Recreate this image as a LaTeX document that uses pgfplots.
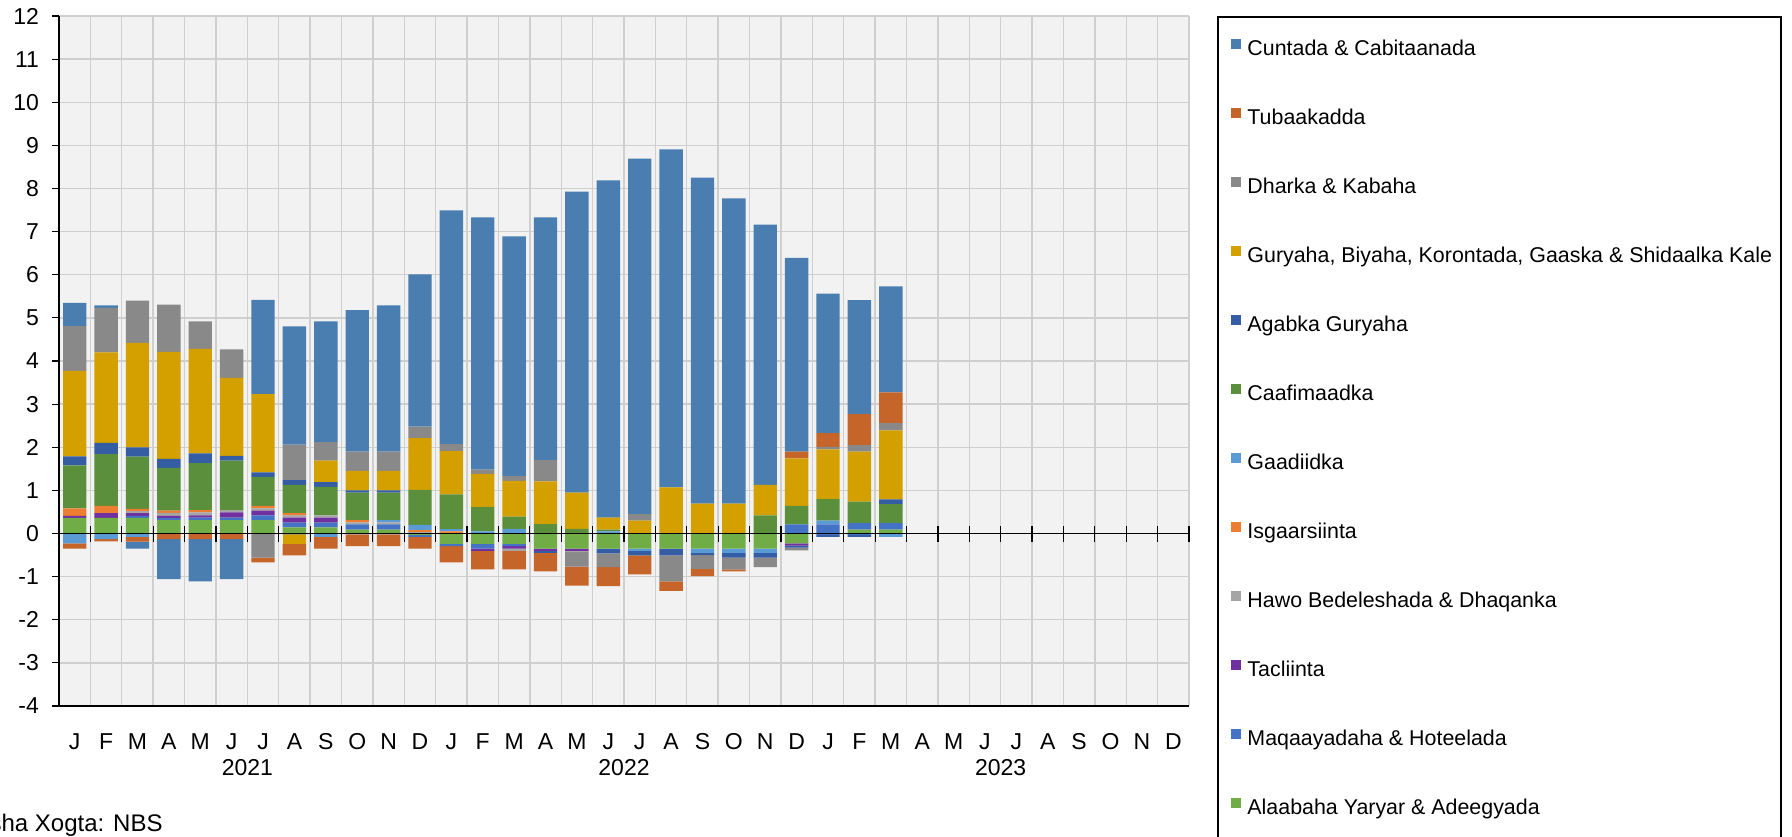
\documentclass[border=0pt]{standalone}
\usepackage{pgfplots}
\pgfplotsset{compat=1.18}
\usepackage{pgfplotstable}
\usepackage{fontspec}
\setmainfont{Liberation Sans}

\definecolor{cCunt}{HTML}{4A7EB0}
\definecolor{cTub}{HTML}{C5652A}
\definecolor{cDhar}{HTML}{898989}
\definecolor{cGur}{HTML}{D4A000}
\definecolor{cAgab}{HTML}{345DA3}
\definecolor{cCaaf}{HTML}{5B8F3B}
\definecolor{cGaad}{HTML}{5B9BD5}
\definecolor{cIsg}{HTML}{ED7D31}
\definecolor{cHawo}{HTML}{A5A5A5}
\definecolor{cTac}{HTML}{7030A0}
\definecolor{cMaq}{HTML}{4472C4}
\definecolor{cAlaa}{HTML}{70AD47}
\definecolor{bgc}{HTML}{F2F2F2}
\definecolor{gridc}{HTML}{CFCFCF}

% positive parts (stacked upward)
\pgfplotstableread{
x  Alaa Maq  Tac  Hawo Isg  Gaad Caaf Agab Gur  Dhar Tub  Cunt
0  0.36 0    0.05 0    0.17 0    1.00 0.21 1.98 1.04 0    0.54
1  0.36 0    0.11 0    0.17 0    1.20 0.26 2.10 1.03 0    0.06
2  0.36 0.05 0.06 0.05 0.05 0    1.21 0.22 2.42 0.98 0    0
3  0.31 0.05 0.05 0.07 0.05 0    0.99 0.21 2.48 1.10 0    0
4  0.31 0.06 0.05 0.07 0.05 0    1.09 0.23 2.42 0.64 0    0
5  0.31 0.06 0.12 0.05 0    0    1.15 0.11 1.81 0.66 0    0
6  0.31 0.11 0.11 0.05 0.06 0    0.67 0.11 1.81 0    0    2.19
7  0.14 0.11 0.12 0.05 0.05 0    0.66 0.11 0    0.82 0    2.74
8  0.14 0.11 0.12 0.05 0    0    0.66 0.11 0.50 0.43 0    2.80
9  0.09 0.12 0    0.05 0.05 0    0.64 0.05 0.45 0.45 0    3.28
10 0.09 0.12 0    0.05 0    0.05 0.64 0.05 0.45 0.45 0    3.39
11 0    0    0    0.03 0.05 0.12 0.81 0    1.20 0.27 0    3.53
12 0    0    0    0    0.05 0.05 0.81 0    1.00 0.16 0    5.42
13 0    0    0    0    0    0.05 0.56 0    0.77 0.10 0    5.85
14 0    0    0    0    0    0.11 0.28 0    0.83 0.11 0    5.56
15 0    0    0    0    0    0    0.22 0    0.99 0.50 0    5.62
16 0    0    0    0    0    0    0.11 0    0.84 0    0    6.98
17 0    0    0    0    0    0.05 0.04 0    0.28 0    0    7.82
18 0    0    0    0    0    0    0    0    0.30 0.15 0    8.24
19 0    0    0    0    0    0    0    0    1.07 0    0    7.84
20 0    0    0    0    0    0    0    0    0.69 0    0    7.56
21 0    0    0    0    0    0    0    0    0.69 0    0    7.08
22 0    0    0    0    0    0    0.42 0    0.71 0    0    6.03
23 0    0.21 0    0    0    0    0.43 0    1.10 0    0.16 4.49
24 0    0.21 0    0    0    0.09 0.50 0    1.15 0.06 0.32 3.23
25 0.09 0.15 0    0    0    0    0.50 0    1.16 0.15 0.72 2.64
26 0.09 0.15 0    0    0    0    0.44 0.11 1.60 0.17 0.71 2.46
}\pos

% negative parts (stacked downward)
\pgfplotstableread{
x  Alaa  Maq   Tac   Hawo  Isg Gaad  Caaf Agab  Gur   Dhar  Tub   Cunt
0  0     0     0     0     0   -0.23 0    0     0     0     -0.12 0
1  0     0     0     0     0   -0.13 0    0     0     0     -0.05 0
2  0     0     0     0     0   -0.08 0    0     0     0     -0.11 -0.16
3  0     0     0     0     0   0     0    0     0     0     -0.13 -0.93
4  0     0     0     0     0   0     0    0     0     0     -0.13 -0.98
5  0     0     0     0     0   0     0    0     0     0     -0.13 -0.93
6  0     0     0     0     0   0     0    0     0     -0.56 -0.11 0
7  0     0     0     0     0   -0.02 0    0     -0.22 0     -0.27 0
8  0     0     0     0     0   -0.08 0    0     0     0     -0.27 0
9  0     0     0     -0.02 0   0     0    0     0     0     -0.27 0
10 0     0     0     -0.02 0   0     0    0     0     0     -0.27 0
11 -0.03 -0.05 0     0     0   0     0    0     0     0     -0.27 0
12 -0.24 -0.05 0     0     0   0     0    0     0     0     -0.38 0
13 -0.24 -0.11 -0.05 0     0   0     0    0     0     0     -0.43 0
14 -0.24 -0.05 -0.06 -0.05 0   0     0    0     0     0     -0.43 0
15 -0.35 0     -0.05 0     0   0     0    -0.05 0     0     -0.43 0
16 -0.35 0     -0.05 -0.03 0   0     0    0     0     -0.34 -0.44 0
17 -0.35 0     0     0     0   0     0    -0.11 0     -0.32 -0.44 0
18 -0.35 0     0     0     0   -0.05 0    -0.11 0     0     -0.44 0
19 -0.35 0     0     0     0   0     0    -0.16 0     -0.60 -0.22 0
20 -0.35 0     0     0     0   -0.10 0    -0.05 0     -0.32 -0.17 0
21 -0.35 0     0     0     0   -0.10 0    -0.11 0     -0.27 -0.05 0
22 -0.35 0     0     0     0   -0.10 0    -0.11 0     -0.22 0     0
23 -0.23 0     -0.05 0     0   0     0    -0.05 0     -0.06 0     0
24 0     -0.03 0     0     0   0     0    -0.05 0     0     0     0
25 0     -0.03 0     0     0   0     0    -0.05 0     0     0     0
26 0     0     0     0     0   -0.08 0    0     0     0     0     0
}\neg

\pgfplotsset{
  base/.style={
    scale only axis, width=565pt, height=345pt,
    at={(29.5pt,65pt)}, anchor=south west,
    xmin=-0.5, xmax=35.5, ymin=-4, ymax=12, enlargelimits=false,
    ybar stacked, bar width=0.745,
  },
  every axis plot/.append style={draw=none},
}

\begin{document}
\begin{tikzpicture}
\useasboundingbox (0,0) rectangle (896pt,418pt);
\begin{axis}[base,
  axis background/.style={fill=bgc},
  axis x line*=bottom, axis y line*=left,
  axis line style={-, black, line width=0.7pt},
  xtick={0,...,35},
  xticklabels={J,F,M,A,M,J,J,A,S,O,N,D,J,F,M,A,M,J,J,A,S,O,N,D,J,F,M,A,M,J,J,A,S,O,N,D},
  x tick style={draw=none},
  minor xtick={0.5,1.5,...,35.5}, xminorgrids,
  minor tick length=0pt,
  ytick={-4,...,12}, ymajorgrids,
  grid style={gridc, line width=0.7pt},
  minor grid style={gridc, line width=0.7pt},
  ytick align=outside, y tick style={black, line width=0.6pt}, major tick length=3.5pt,
  tick label style={font=\fontsize{11.5}{13}\selectfont},
  /pgf/number format/assume math mode=true,
  xticklabel style={anchor=base, yshift=-21.5pt},
  yticklabel style={xshift=-3pt},
  reverse legend,
  legend cell align=left,
  legend image code/.code={\fill[#1] (0pt,0.6pt) rectangle (5pt,5.6pt);},
  legend style={at={(1.0372,0.966)}, anchor=north west, draw=none, fill=none,
    inner sep=0pt, outer sep=0pt, row sep=23.9pt,
    font=\fontsize{10.7}{12}\selectfont,
    nodes={inner sep=0pt, text height=7.5pt, text depth=2.5pt},
    /tikz/every odd column/.append style={column sep=3.2pt}},
]
\addplot[fill=cAlaa] table[x=x,y=Alaa]{\pos};
\addplot[fill=cMaq]  table[x=x,y=Maq]{\pos};
\addplot[fill=cTac]  table[x=x,y=Tac]{\pos};
\addplot[fill=cHawo] table[x=x,y=Hawo]{\pos};
\addplot[fill=cIsg]  table[x=x,y=Isg]{\pos};
\addplot[fill=cGaad] table[x=x,y=Gaad]{\pos};
\addplot[fill=cCaaf] table[x=x,y=Caaf]{\pos};
\addplot[fill=cAgab] table[x=x,y=Agab]{\pos};
\addplot[fill=cGur]  table[x=x,y=Gur]{\pos};
\addplot[fill=cDhar] table[x=x,y=Dhar]{\pos};
\addplot[fill=cTub]  table[x=x,y=Tub]{\pos};
\addplot[fill=cCunt] table[x=x,y=Cunt]{\pos};
\addlegendentry{Alaabaha Yaryar \& Adeegyada}
\addlegendentry{Maqaayadaha \& Hoteelada}
\addlegendentry{Tacliinta}
\addlegendentry{Hawo Bedeleshada \& Dhaqanka}
\addlegendentry{Isgaarsiinta}
\addlegendentry{Gaadiidka}
\addlegendentry{Caafimaadka}
\addlegendentry{Agabka Guryaha}
\addlegendentry{Guryaha, Biyaha, Korontada, Gaaska \& Shidaalka Kale}
\addlegendentry{Dharka \& Kabaha}
\addlegendentry{Tubaakadda}
\addlegendentry{Cuntada \& Cabitaanada}
\end{axis}
\begin{axis}[base,
  axis x line=middle, axis y line=none,
  axis line style={-, black, line width=0.8pt},
  axis on top,
  xtick={0.5,1.5,...,35.5}, xticklabels={},
  xtick align=center, major tick length=8pt,
  x tick style={black, line width=0.6pt},
  ytick=\empty,
]
\addplot[fill=cAlaa] table[x=x,y=Alaa]{\neg};
\addplot[fill=cMaq]  table[x=x,y=Maq]{\neg};
\addplot[fill=cTac]  table[x=x,y=Tac]{\neg};
\addplot[fill=cHawo] table[x=x,y=Hawo]{\neg};
\addplot[fill=cIsg]  table[x=x,y=Isg]{\neg};
\addplot[fill=cGaad] table[x=x,y=Gaad]{\neg};
\addplot[fill=cCaaf] table[x=x,y=Caaf]{\neg};
\addplot[fill=cAgab] table[x=x,y=Agab]{\neg};
\addplot[fill=cGur]  table[x=x,y=Gur]{\neg};
\addplot[fill=cDhar] table[x=x,y=Dhar]{\neg};
\addplot[fill=cTub]  table[x=x,y=Tub]{\neg};
\addplot[fill=cCunt] table[x=x,y=Cunt]{\neg};
\end{axis}
\begin{scope}[font=\fontsize{11.5}{13}\selectfont]
\node[anchor=base] at (123.67pt,30.4pt) {2021};
\node[anchor=base] at (312pt,30.4pt) {2022};
\node[anchor=base] at (500.33pt,30.4pt) {2023};
\end{scope}
\node[anchor=base east, inner sep=0pt, font=\fontsize{12}{14}\selectfont] at (81.5pt,2.2pt) {Isha Xogta: NBS};
\draw[black, line width=1pt] (609pt,409.7pt) rectangle (890.5pt,-30pt);
\end{tikzpicture}
\end{document}
